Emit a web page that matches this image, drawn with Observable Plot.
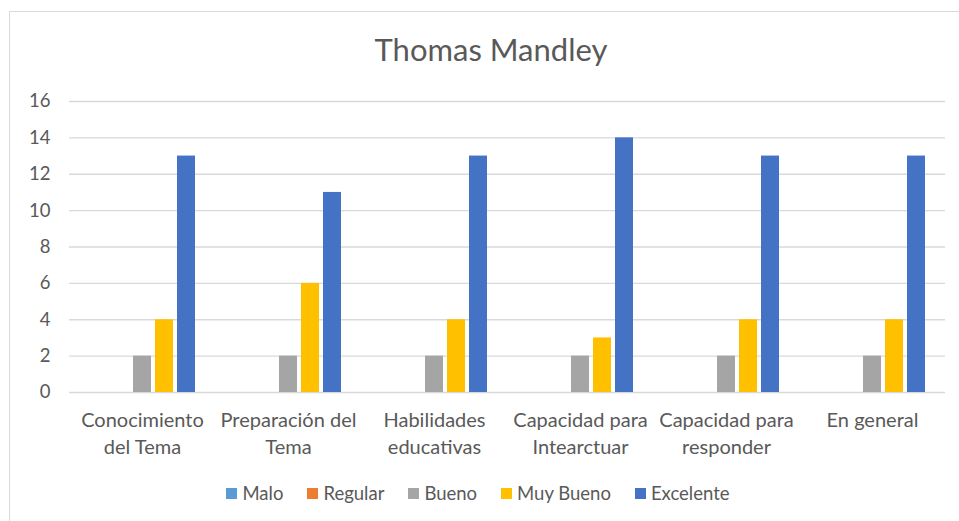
<!DOCTYPE html>
<html>
<head>
<meta charset="utf-8">
<script src="https://cdn.jsdelivr.net/npm/d3@7"></script>
<script src="https://cdn.jsdelivr.net/npm/@observablehq/plot@0.6"></script>
<style>
  html, body { margin: 0; padding: 0; background: #fff; }
  #wrap { position: relative; width: 959px; height: 521px; overflow: hidden; font-family: Lato, "Open Sans", sans-serif; color: #595959; }
  #border { position: absolute; left: 9px; top: 11px; width: 1000px; height: 600px; border: 1.5px solid #d9d9d9; box-sizing: border-box; }
  #title { position: absolute; left: 0; width: 982px; top: 34px; text-align: center; font-size: 31px; line-height: 1; }
  #chart { position: absolute; left: 0; top: 0; }
  #legend { position: absolute; left: 0; width: 956px; top: 484px; display: flex; justify-content: center; gap: 24px; font-size: 18.5px; line-height: 1; }
  .item { display: flex; align-items: center; gap: 5px; }
  .sw { width: 11px; height: 11px; display: inline-block; }
</style>
</head>
<body>
<div id="wrap">
  <div id="border"></div>
  <div id="title"></div>
  <div id="chart"></div>
  <div id="legend"></div>
</div>
<script>
const chartTitle = "Thomas Mandley";
const categories = ["Conocimiento del Tema", "Preparación del Tema", "Habilidades educativas", "Capacidad para Intearctuar", "Capacidad para responder", "En general"];
const categoryLabels = ["Conocimiento\ndel Tema", "Preparación del\nTema", "Habilidades\neducativas", "Capacidad para\nIntearctuar", "Capacidad para\nresponder", "En general"];
const series = ["Malo", "Regular", "Bueno", "Muy Bueno", "Excelente"];
const colors = ["#5B9BD5", "#ED7D31", "#A5A5A5", "#FFC000", "#4472C4"];
const malo = [0, 0, 0, 0, 0, 0];
const regular = [0, 0, 0, 0, 0, 0];
const bueno = [2, 2, 2, 2, 2, 2];
const muyBueno = [4, 6, 4, 3, 4, 4];
const excelente = [13, 11, 13, 14, 13, 13];
const yTicks = [0, 2, 4, 6, 8, 10, 12, 14, 16];

const seriesValues = [malo, regular, bueno, muyBueno, excelente];
const data = [];
categories.forEach((c, i) => {
  series.forEach((s, j) => data.push({cat: c, serie: s, value: seriesValues[j][i]}));
});
const labelOf = new Map(categories.map((c, i) => [c, categoryLabels[i]]));

document.getElementById("title").textContent = chartTitle;

const plot = Plot.plot({
  width: 959,
  height: 521,
  marginTop: 101,
  marginBottom: 129,
  marginLeft: 67,
  marginRight: 12,
  style: {fontFamily: "Lato, 'Open Sans', sans-serif", fontSize: "18.5px", color: "#595959", background: "transparent"},
  fx: {domain: categories, padding: 0, axis: null},
  x: {domain: series, paddingInner: 0.2, paddingOuter: 0.86, axis: null},
  y: {domain: [0, 16], ticks: yTicks, tickSize: 0, tickPadding: 19, label: null},
  color: {domain: series, range: colors},
  marks: [
    Plot.gridY(yTicks, {stroke: "#d9d9d9", strokeOpacity: 1, strokeWidth: 1.3}),
    Plot.barY(data, {fx: "cat", x: "serie", y: "value", fill: "serie"}),
    Plot.text(categories, {fx: d => d, text: d => labelOf.get(d), frameAnchor: "bottom", lineAnchor: "top", dy: 15, lineHeight: 1.35, fontSize: 20, fill: "#595959"})
  ]
});
document.getElementById("chart").appendChild(plot);

const legend = document.getElementById("legend");
series.forEach((s, i) => {
  const item = document.createElement("div");
  item.className = "item";
  const sw = document.createElement("span");
  sw.className = "sw";
  sw.style.background = colors[i];
  const t = document.createElement("span");
  t.textContent = s;
  item.appendChild(sw);
  item.appendChild(t);
  legend.appendChild(item);
});
</script>
</body>
</html>
